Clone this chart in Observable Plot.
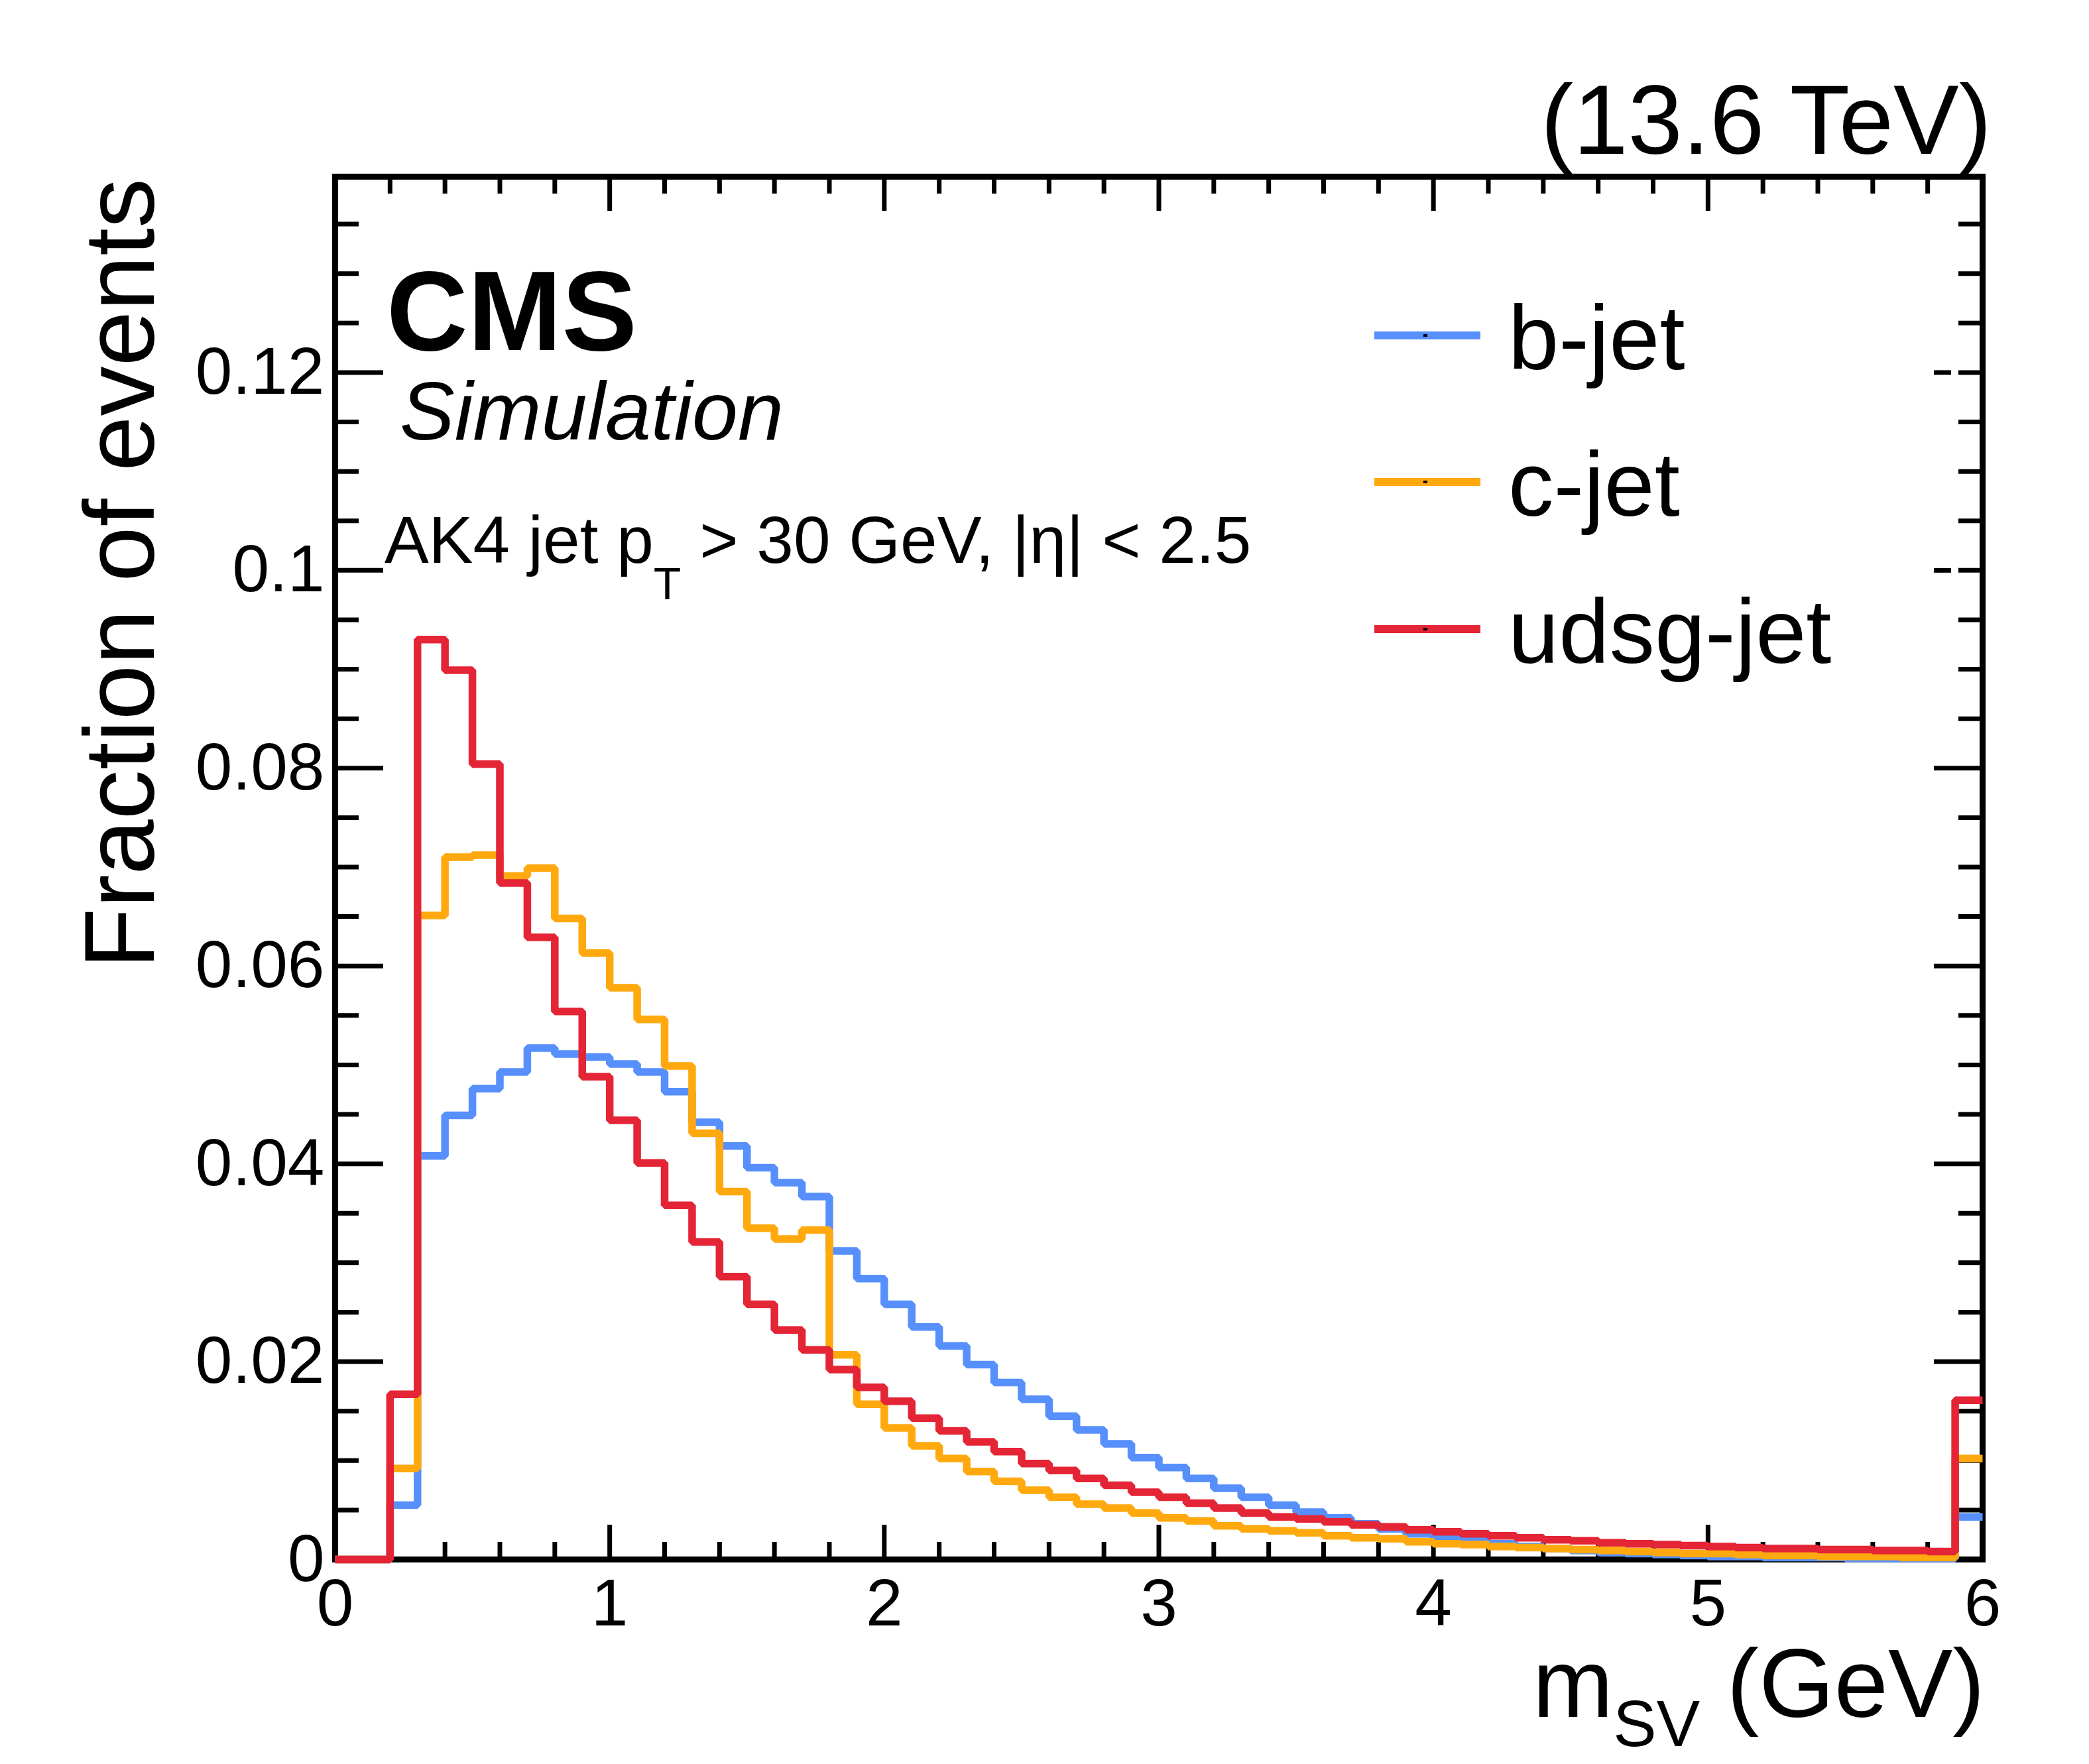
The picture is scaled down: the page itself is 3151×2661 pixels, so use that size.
<!DOCTYPE html>
<html><head><meta charset="utf-8">
<script src="https://cdn.jsdelivr.net/npm/d3@7"></script>
<script src="https://cdn.jsdelivr.net/npm/@observablehq/plot@0.6"></script>
<style>body{margin:0;background:#fff} svg{display:block}</style>
</head><body><div id="chart"></div>
<script>
// ---- data: fraction of events per 0.1 GeV bin of m_SV (0..6 GeV, last bin includes overflow)
const binStart = 0, binWidth = 0.1;
const bJet = [0,0,0.0055,0.0408,0.0449,0.0476,0.0493,0.0517,0.0511,0.0508,
  0.0501,0.0493,0.0473,0.0442,0.0418,0.0396,0.0381,0.0367,0.0312,0.0284,
  0.0258,0.0235,0.0216,0.0197,0.0179,0.0162,0.0145,0.0131,0.0117,0.0103,
  0.0093,0.0082,0.0072,0.0063,0.0055,0.0048,0.0042,0.0036,0.0031,0.0026,
  0.0022,0.0019,0.0016,0.0013,0.0011,0.0009,0.0007,0.0006,0.0005,0.0004,
  0.0003,0.0003,0.0002,0.0002,0.0002,0.0001,0.0001,0.0001,0.0001,0.0043];
const cJet = [0,0,0.0092,0.0651,0.0710,0.0712,0.0691,0.0699,0.0648,0.0613,
  0.0578,0.0546,0.0499,0.0431,0.0372,0.0335,0.0324,0.0333,0.0207,0.0157,
  0.0133,0.0115,0.0102,0.0089,0.0079,0.0070,0.0063,0.0056,0.0052,0.0047,
  0.0042,0.0039,0.0034,0.0031,0.0029,0.0027,0.0024,0.0022,0.0021,0.0018,
  0.0016,0.0015,0.0013,0.0012,0.0011,0.0010,0.0009,0.0008,0.0007,0.0006,
  0.0006,0.0005,0.0004,0.0004,0.0003,0.0003,0.0003,0.0002,0.0002,0.0102];
const udsgJet = [0,0,0.0167,0.0930,0.0899,0.0804,0.0684,0.0629,0.0554,0.0488,
  0.0444,0.0401,0.0358,0.0321,0.0286,0.0258,0.0232,0.0212,0.0192,0.0174,
  0.0160,0.0143,0.0130,0.0119,0.0109,0.0097,0.0090,0.0082,0.0075,0.0068,
  0.0063,0.0057,0.0052,0.0047,0.0043,0.0041,0.0038,0.0035,0.0033,0.0030,
  0.0028,0.0026,0.0024,0.0022,0.0020,0.0019,0.0017,0.0016,0.0015,0.0014,
  0.0013,0.0012,0.0011,0.0011,0.0010,0.0010,0.0009,0.0009,0.0008,0.0161];
const seriesNames = ["b-jet", "c-jet", "udsg-jet"];
const seriesColors = ["#5790fc", "#ffa90e", "#e42536"];
const xTickValues = [0, 1, 2, 3, 4, 5, 6];
const yTickValues = [0, 0.02, 0.04, 0.06, 0.08, 0.1, 0.12];
const xMax = 6, yMax = 0.1398;

// ---- layout
const W = 3151, H = 2661;
const mL = 505, mR = 161, mT = 266, mB = 309;
const pxX = (W - mL - mR) / xMax, pxY = (H - mT - mB) / yMax;
const font = "'Liberation Sans', Arial, Helvetica, sans-serif";

function steps(values, name) {
  const pts = values.map((v, i) => ({x: +(binStart + i * binWidth).toFixed(3), y: v, series: name}));
  pts.push({x: +(binStart + values.length * binWidth).toFixed(3), y: values[values.length - 1], series: name});
  return pts;
}
const allSeries = [bJet, cJet, udsgJet].map((v, k) => steps(v, seriesNames[k]));

const xMinor = d3.range(0, 30 + 1).map(i => i * 0.2).filter(v => Math.abs(v - Math.round(v)) > 1e-6);
const yMinor = d3.range(0, 28).map(i => +(i * 0.005).toFixed(3)).filter(v => !yTickValues.some(t => Math.abs(t - v) < 1e-9));

const majX = 52 / pxY, minX = 26 / pxY;   // x-axis tick lengths (in y units)
const majY = 73 / pxX, minY = 36 / pxX;   // y-axis tick lengths (in x units)
const tickStyle = {stroke: "black", strokeWidth: 7};
const splitTicks = [0.1, 0.12];  // right-side major ticks shown broken in the reference
const fullRight = yTickValues.filter(v => !splitTicks.includes(v));

const plot = Plot.plot({
  width: W, height: H,
  marginLeft: mL, marginRight: mR, marginTop: mT, marginBottom: mB,
  style: {fontFamily: font, background: "white", color: "black"},
  x: {domain: [0, xMax], label: null},
  y: {domain: [0, yMax], label: null},
  marks: [
    Plot.frame({stroke: "black", strokeWidth: 9}),
    // bottom / top ticks
    Plot.ruleX(xTickValues, {y1: 0, y2: majX, ...tickStyle}),
    Plot.ruleX(xMinor, {y1: 0, y2: minX, ...tickStyle}),
    Plot.ruleX(xTickValues, {y1: yMax, y2: yMax - majX, ...tickStyle}),
    Plot.ruleX(xMinor, {y1: yMax, y2: yMax - minX, ...tickStyle}),
    // left / right ticks
    Plot.ruleY(yTickValues, {x1: 0, x2: majY, ...tickStyle}),
    Plot.ruleY(yMinor, {x1: 0, x2: minY, ...tickStyle}),
    Plot.ruleY(fullRight, {x1: xMax, x2: xMax - majY, ...tickStyle}),
    Plot.ruleY(splitTicks, {x1: xMax, x2: xMax - minY, ...tickStyle}),
    Plot.ruleY(splitTicks, {x1: xMax - 47 / pxX, x2: xMax - majY, ...tickStyle}),
    Plot.ruleY(yMinor, {x1: xMax, x2: xMax - minY, ...tickStyle}),
    // histograms
    ...allSeries.map((pts, k) => Plot.line(pts, {
      x: "x", y: "y", curve: "step-after", stroke: seriesColors[k],
      strokeWidth: 11.5, strokeLinejoin: "miter", strokeLinecap: "butt"
    })),
    // tick labels
    Plot.axisX(xTickValues, {tickSize: 0, tickPadding: 28, fontSize: 100, tickFormat: d => String(d)}),
    Plot.axisY(yTickValues, {tickSize: 0, tickPadding: 16, fontSize: 100, tickFormat: d => String(d)})
  ]
});
document.getElementById("chart").appendChild(plot);

// ---- annotations
const svg = d3.select(plot);
const g = svg.append("g").attr("font-family", font).attr("fill", "black").attr("text-anchor", "start");

// axis titles
g.append("text").attr("transform", "translate(232,269) rotate(-90)")
  .attr("text-anchor", "end").attr("font-size", 150).text("Fraction of events");
const xt = g.append("text").attr("x", 2994).attr("y", 2590).attr("text-anchor", "end").attr("font-size", 146);
xt.append("tspan").text("m");
xt.append("tspan").attr("font-size", 98).attr("dy", 44).text("SV");
xt.append("tspan").attr("dy", -44).text(" (GeV)");

// top right
g.append("text").attr("x", 3004).attr("y", 232).attr("text-anchor", "end")
  .attr("font-size", 148).text("(13.6 TeV)");

// CMS labels
g.append("text").attr("x", 583).attr("y", 528).attr("font-size", 170)
  .attr("font-weight", "bold").attr("text-anchor", "start").text("CMS");
g.append("text").attr("x", 603).attr("y", 663).attr("font-size", 124)
  .attr("font-style", "italic").attr("text-anchor", "start").text("Simulation");
const cut = g.append("text").attr("x", 580).attr("y", 849).attr("font-size", 100).attr("text-anchor", "start");
cut.append("tspan").text("AK4 jet p");
cut.append("tspan").attr("font-size", 68).attr("dy", 55).text("T");
cut.append("tspan").attr("dy", -55).text(" > 30 GeV, |\u03b7| < 2.5");

// legend
const legY = [506, 727, 949];
seriesNames.forEach((name, k) => {
  g.append("line").attr("x1", 2073).attr("x2", 2233).attr("y1", legY[k]).attr("y2", legY[k])
    .attr("stroke", seriesColors[k]).attr("stroke-width", 12);
  g.append("rect").attr("x", 2147).attr("y", legY[k] - 2).attr("width", 6).attr("height", 4).attr("fill", "black");
  g.append("text").attr("x", 2275).attr("y", legY[k] + 51).attr("font-size", 137)
    .attr("text-anchor", "start").text(name);
});
</script>
</body></html>
